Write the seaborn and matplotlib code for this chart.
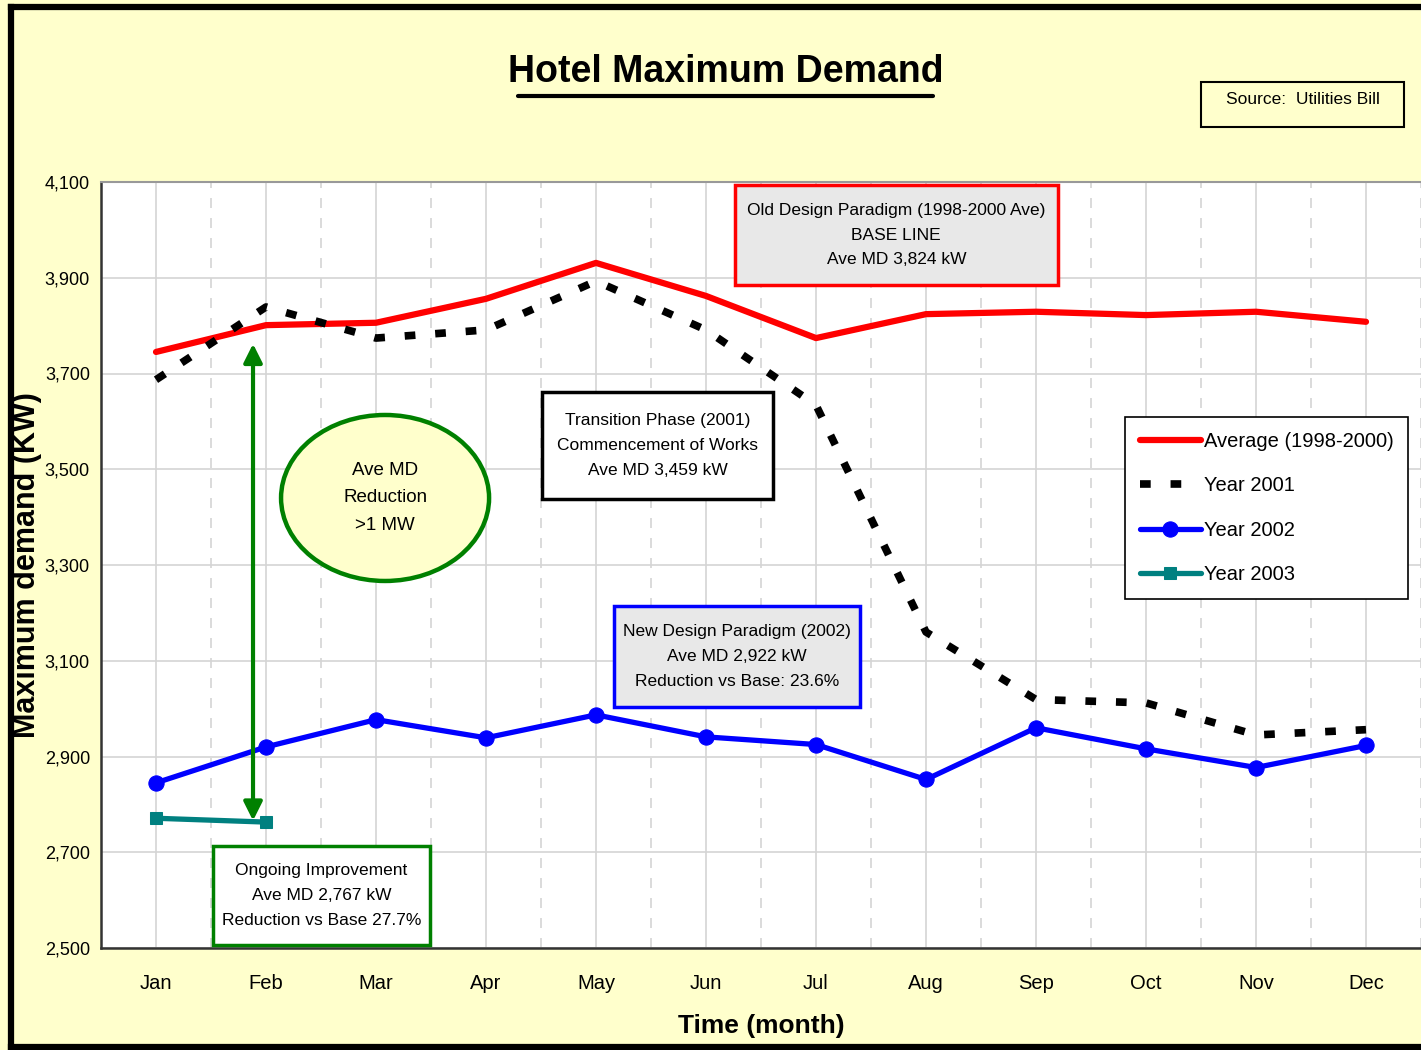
import numpy as np
import pandas as pd
import matplotlib
matplotlib.use('Agg')
import matplotlib.pyplot as plt
from matplotlib.patches import Rectangle, Ellipse
from matplotlib.lines import Line2D
from matplotlib.ticker import FuncFormatter
import seaborn as sns

# データ (読み取り値)
months = ['Jan', 'Feb', 'Mar', 'Apr', 'May', 'Jun', 'Jul', 'Aug', 'Sep', 'Oct', 'Nov', 'Dec']
avg_1998_2000 = [3745, 3801, 3806, 3856, 3931, 3862, 3774, 3824, 3829, 3822, 3829, 3808]
year_2001 = [3687, 3839, 3774, 3791, 3893, 3791, 3634, 3160, 3019, 3012, 2945, 2956]
year_2002 = [2845, 2920, 2977, 2939, 2987, 2941, 2925, 2852, 2960, 2916, 2877, 2923]
year_2003 = [2771, 2763]

y_ticks = [2500, 2700, 2900, 3100, 3300, 3500, 3700, 3900, 4100]

BG = '#FFFFCC'

sns.set_style('white')
plt.rcParams['font.family'] = ['Liberation Sans', 'DejaVu Sans']
for k in ['text.color', 'axes.labelcolor', 'xtick.color', 'ytick.color']:
    plt.rcParams[k] = 'black'

df = pd.DataFrame({
    'idx': np.arange(len(months)),
    'avg': avg_1998_2000,
    'y2001': year_2001,
    'y2002': year_2002,
})
df3 = pd.DataFrame({'idx': np.arange(len(year_2003)), 'y2003': year_2003})

fig = plt.figure(figsize=(14.21, 10.5), dpi=100, facecolor=BG)
ax = fig.add_axes([101 / 1421, 102 / 1050, 1320 / 1421, 766 / 1050])
ax.set_facecolor('white')

# グリッド
for y in y_ticks:
    ax.axhline(y, color='#D4D4D4', lw=1.2, zorder=0)
for i in range(len(months)):
    ax.axvline(i, color='#D4D4D4', lw=1.2, zorder=0)
    ax.axvline(i + 0.5, color='#D4D4D4', lw=1.2, ls=(0, (6, 6)), zorder=0)

sns.lineplot(data=df, x='idx', y='avg', ax=ax, color='#FF0000', lw=4.5,
             label='Average (1998-2000)', zorder=3)
sns.lineplot(data=df, x='idx', y='y2001', ax=ax, color='black', lw=5.5,
             dashes=False, label='Year 2001', zorder=3)
ax.lines[-1].set_dashes((1.4, 2.6))
sns.lineplot(data=df, x='idx', y='y2002', ax=ax, color='#0000FF', lw=3.8,
             marker='o', markersize=11, markeredgecolor='#0000FF',
             label='Year 2002', zorder=4)
sns.lineplot(data=df3, x='idx', y='y2003', ax=ax, color='#008080', lw=3.8,
             marker='s', markersize=9, markeredgecolor='#008080',
             label='Year 2003', zorder=4)

ax.set_xlim(-0.5, 11.5)
ax.set_ylim(2500, 4100)
ax.set_yticks(y_ticks)
ax.yaxis.set_major_formatter(FuncFormatter(lambda v, p: f'{int(v):,}'))
ax.set_xticks(np.arange(len(months)))
ax.set_xticklabels(months)
ax.set_xticks(np.arange(len(months) + 1) - 0.5, minor=True)
ax.tick_params(axis='x', which='major', length=0, labelsize=14.5, pad=19)
ax.tick_params(axis='x', which='minor', length=7, width=1.5, color='#333333', direction='out')
ax.tick_params(axis='y', length=6, width=1.5, color='#333333', direction='out',
               labelsize=13, pad=2)

for s in ['left', 'bottom']:
    ax.spines[s].set_color('#333333')
    ax.spines[s].set_linewidth(1.8)
ax.spines['top'].set_color('#999999')
ax.spines['top'].set_linewidth(1.5)
ax.spines['right'].set_visible(False)

ax.set_xlabel('Time (month)', fontsize=19, fontweight='bold', labelpad=15)
ax.set_ylabel('Maximum demand (KW)', fontsize=22, fontweight='bold')
ax.yaxis.set_label_coords(-0.045, 0.5)

leg = ax.legend(loc='upper left', bbox_to_anchor=(0.7758, 0.693), frameon=True,
                fancybox=False, edgecolor='black', framealpha=1, fontsize=14.5,
                handlelength=3.0, handletextpad=0.15, labelspacing=1.25,
                borderpad=0.75, borderaxespad=0)
leg.get_frame().set_linewidth(1.2)

# 注記ボックス
def box(x0, x1, y0, y1, fc, ec, lw, lines, fs=12.5):
    ax.add_patch(Rectangle((x0, y0), x1 - x0, y1 - y0, transform=ax.transAxes,
                           facecolor=fc, edgecolor=ec, lw=lw, zorder=5, clip_on=False))
    ax.text((x0 + x1) / 2, (y0 + y1) / 2, '\n'.join(lines), transform=ax.transAxes,
            ha='center', va='center', fontsize=fs, linespacing=1.8, zorder=6)

box(0.480, 0.725, 0.8655, 0.996, '#E8E8E8', '#FF0000', 2.5,
    ['Old Design Paradigm (1998-2000 Ave)', 'BASE LINE', 'Ave MD 3,824 kW'])
box(0.334, 0.509, 0.586, 0.726, 'white', 'black', 2.5,
    ['Transition Phase (2001)', 'Commencement of Works', 'Ave MD 3,459 kW'])
box(0.389, 0.575, 0.3146, 0.4465, '#E8E8E8', '#0000FF', 2.5,
    ['New Design Paradigm (2002)', 'Ave MD 2,922 kW', 'Reduction vs Base: 23.6%'])
box(0.0848, 0.249, 0.004, 0.133, 'white', '#008000', 2.5,
    ['Ongoing Improvement', 'Ave MD 2,767 kW', 'Reduction vs Base 27.7%'])

ax.add_patch(Ellipse((0.2152, 0.5875), 0.1576, 0.2167, transform=ax.transAxes,
                     facecolor=BG, edgecolor='#008000', lw=3.2, zorder=5))
ax.text(0.2152, 0.5875, 'Ave MD\nReduction\n>1 MW', transform=ax.transAxes,
        ha='center', va='center', fontsize=13.5, linespacing=1.8, zorder=6)

ax.annotate('', xy=(0.882, 3762), xytext=(0.882, 2766),
            arrowprops=dict(arrowstyle='<|-|>', color='#008000', lw=3,
                            mutation_scale=28, shrinkA=0, shrinkB=0), zorder=6)

# タイトル・出典
fig.text(726 / 1421, 1 - 72 / 1050, 'Hotel Maximum Demand', ha='center', va='center',
         fontsize=27, fontweight='bold')
fig.add_artist(Line2D([518 / 1421, 933 / 1421], [1 - 96 / 1050] * 2, color='black', lw=3))
fig.add_artist(Rectangle((1201 / 1421, 1 - 127 / 1050), 203 / 1421, 45 / 1050,
                         facecolor=BG, edgecolor='black', lw=1.5))
fig.text(1303 / 1421, 1 - 99 / 1050, 'Source:  Utilities Bill', ha='center', va='center',
         fontsize=12.5)

# 外枠
fk = dict(color='black', lw=4.5, solid_capstyle='projecting')
fig.add_artist(Line2D([11 / 1421, 11 / 1421], [1 - 7 / 1050, 3 / 1050], **fk))
fig.add_artist(Line2D([11 / 1421, 1.01], [1 - 7 / 1050] * 2, **fk))
fig.add_artist(Line2D([11 / 1421, 1.01], [3 / 1050] * 2, **fk))

fig.savefig('out.png', dpi=100, facecolor=BG)
